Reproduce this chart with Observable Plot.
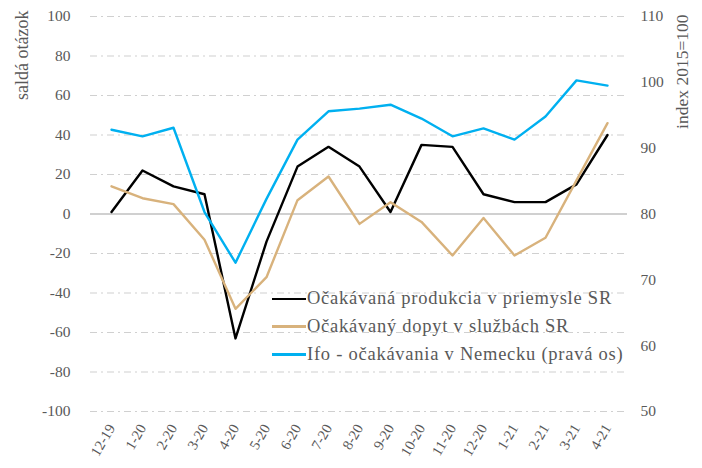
<!DOCTYPE html>
<html>
<head>
<meta charset="utf-8">
<script src="https://cdn.jsdelivr.net/npm/d3@7"></script>
<script src="https://cdn.jsdelivr.net/npm/@observablehq/plot@0.6"></script>
<style>
  body { margin: 0; background: #fff; }
  #wrap { position: relative; width: 702px; height: 468px; font-family: "Liberation Serif", "DejaVu Serif", serif; }
  #legend { position: absolute; left: 272px; top: 285px; font-size: 18.5px; letter-spacing: 0.75px; color: #595959; line-height: 27.8px; }
  #legend .row { display: flex; align-items: center; white-space: nowrap; }
  #legend .sw { width: 34px; height: 2.5px; margin-right: 1px; }
</style>
</head>
<body>
<div id="wrap"></div>
<script>
const months = ["12-19","1-20","2-20","3-20","4-20","5-20","6-20","7-20","8-20","9-20","10-20","11-20","12-20","1-21","2-21","3-21","4-21"];
const production = [1, 22, 14, 10, -63, -14, 24, 34, 24, 1, 35, 34, 10, 6, 6, 15, 40];
const services = [14, 8, 5, -13, -48, -32, 7, 19, -5, 6, -4, -21, -2, -21, -12, 17, 46];
const ifo = [92.8, 91.8, 93.1, 80.3, 72.6, 82.3, 91.3, 95.6, 96.0, 96.6, 94.5, 91.8, 93.0, 91.3, 94.8, 100.3, 99.5];
const leftTicks = [-100, -80, -60, -40, -20, 0, 20, 40, 60, 80, 100];
const rightTicks = [50, 60, 70, 80, 90, 100, 110];
const seriesNames = ["Očakávaná produkcia v priemysle SR", "Očakávaný dopyt v službách SR", "Ifo - očakávania v Nemecku (pravá os)"];
const colors = ["#000000", "#d8b27c", "#00b0f0"];
const leftTitle = "saldá otázok";
const rightTitle = "index 2015=100";

// right axis (50..110) mapped onto left scale (-100..100)
const toLeft = v => (v - 80) * 10 / 3;
const toRight = v => v * 0.3 + 80;

const rows = [];
months.forEach((m, i) => {
  rows.push({m, v: production[i], s: seriesNames[0]});
  rows.push({m, v: services[i], s: seriesNames[1]});
  rows.push({m, v: toLeft(ifo[i]), s: seriesNames[2]});
});

const font = "Liberation Serif, DejaVu Serif, serif";
const chart = Plot.plot({
  width: 702,
  height: 468,
  marginLeft: 90,
  marginRight: 75,
  marginTop: 16,
  marginBottom: 57,
  style: {fontFamily: font, fontSize: "15px", color: "#595959", background: "#fff"},
  x: {type: "point", domain: months, padding: 0.5},
  y: {domain: [-100, 100]},
  color: {domain: seriesNames, range: colors},
  marks: [
    Plot.ruleY(leftTicks.filter(d => d !== 0), {stroke: "#d0d0d0", strokeWidth: 1.2, strokeDasharray: "7,4,2,4"}),
    Plot.ruleY([0], {stroke: "#d0d0d0", strokeWidth: 2}),
    Plot.axisY({ticks: leftTicks, tickFormat: d => String(d), tickSize: 0, tickPadding: 20, label: null, fontSize: 15.5}),
    Plot.axisY({anchor: "right", ticks: rightTicks.map(toLeft), tickFormat: d => String(Math.round(toRight(d))), tickSize: 0, tickPadding: 13, label: null, fontSize: 15.5}),
    Plot.axisX({tickRotate: -60, tickSize: 0, tickPadding: 14, label: null, fontSize: 14.5}),
    Plot.line(rows, {x: "m", y: "v", z: "s", stroke: "s", strokeWidth: 2.4}),
    Plot.text([leftTitle], {frameAnchor: "top-left", rotate: -90, textAnchor: "end", dx: -75, dy: -6, fontSize: 18, letterSpacing: 0.6, fill: "#595959"}),
    Plot.text([rightTitle], {frameAnchor: "top-right", rotate: -90, textAnchor: "end", dx: 48, dy: -2, fontSize: 17.5, letterSpacing: 0.6, fill: "#595959"})
  ]
});
const wrap = document.getElementById("wrap");
wrap.appendChild(chart);
const leg = document.createElement("div");
leg.id = "legend";
seriesNames.forEach((n, i) => {
  const r = document.createElement("div");
  r.className = "row";
  r.innerHTML = `<span class="sw" style="background:${colors[i]}"></span><span>${n}</span>`;
  leg.appendChild(r);
});
wrap.appendChild(leg);
</script>
</body>
</html>
